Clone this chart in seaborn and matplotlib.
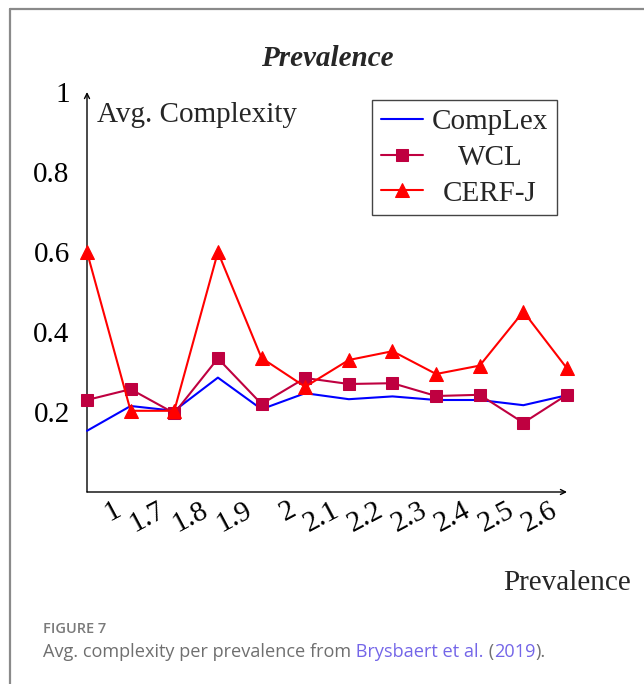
import matplotlib
matplotlib.use("Agg")
import matplotlib.pyplot as plt
import numpy as np
import pandas as pd
import seaborn as sns
from matplotlib.lines import Line2D
from matplotlib.transforms import ScaledTranslation

# ---------------- data ----------------
positions = list(range(12))
tick_positions = list(range(1, 12))
tick_labels = ["1", "1.7", "1.8", "1.9", "2", "2.1", "2.2", "2.3", "2.4", "2.5", "2.6"]
complex_vals = [0.153, 0.215, 0.203, 0.286, 0.207, 0.247, 0.232, 0.239, 0.230, 0.230, 0.217, 0.242]
wcl_vals = [0.230, 0.257, 0.197, 0.334, 0.220, 0.285, 0.270, 0.272, 0.240, 0.243, 0.173, 0.243]
cerf_vals = [0.600, 0.203, 0.203, 0.600, 0.335, 0.263, 0.330, 0.352, 0.295, 0.316, 0.451, 0.309]
y_ticks = [0.2, 0.4, 0.6, 0.8, 1.0]
y_tick_labels = ["0.2", "0.4", "0.6", "0.8", "1"]
series_names = ["CompLex", "WCL", "CERF-J"]
series_values = [complex_vals, wcl_vals, cerf_vals]
series_colors = ["#0000FF", "#BF0040", "#FF0000"]
series_markers = [None, "s", "^"]
series_msize = [0, 9, 9.5]

sns.set_style("white")
plt.rcParams["font.family"] = ["Liberation Serif", "DejaVu Serif"]

W, H = 644, 684
fig = plt.figure(figsize=(W / 100, H / 100), dpi=100)
ax = fig.add_axes([87 / W, 1 - 492 / H, 480 / W, 400 / H])

for name, vals, col, mk, ms in zip(series_names, series_values, series_colors,
                                    series_markers, series_msize):
    df = pd.DataFrame({"x": positions, "y": vals})
    kw = dict(color=col, linewidth=1.5, label=name, ax=ax, clip_on=False, zorder=3)
    if mk is not None:
        kw.update(marker=mk, markersize=ms, markeredgecolor=col, markerfacecolor=col)
    sns.lineplot(data=df, x="x", y="y", **kw)

ax.set_xlim(0, 11)
ax.set_ylim(0, 1)
for s in ax.spines.values():
    s.set_visible(False)
ax.set_xlabel("")
ax.set_ylabel("")

# axis arrows
arrow_kw = dict(arrowstyle="->", lw=1.0, color="black", shrinkA=0, shrinkB=0,
                mutation_scale=9)
ax.annotate("", xy=(1, 0), xytext=(0, 0), xycoords="axes fraction",
            textcoords="axes fraction", arrowprops=arrow_kw, zorder=2)
ax.annotate("", xy=(0, 1), xytext=(0, 0), xycoords="axes fraction",
            textcoords="axes fraction", arrowprops=arrow_kw, zorder=2)

ax.set_xticks(tick_positions)
ax.set_xticklabels(tick_labels)
ax.set_yticks(y_ticks)
ax.set_yticklabels(y_tick_labels)
ax.tick_params(axis="both", direction="inout", length=7, width=0.8,
               color="#cfcfcf", labelsize=21, labelcolor="black")
ax.tick_params(axis="y", pad=9)
ax.tick_params(axis="x", pad=0)

offset = ScaledTranslation(-5 / 100, 0, fig.dpi_scale_trans)
for lbl in ax.get_xticklabels():
    lbl.set_rotation(28)
    lbl.set_ha("right")
    lbl.set_va("top")
    lbl.set_transform(lbl.get_transform() + offset)

# y axis label inside top-left
ax.text(10 / 480, (492 - 115) / 400, "Avg. Complexity", transform=ax.transAxes,
        ha="left", va="center", fontsize=21)

# legend
handles, labels = ax.get_legend_handles_labels()
leg = ax.legend(handles, labels, loc="upper right",
                bbox_to_anchor=((557 - 87) / 480, (492 - 100) / 400),
                fancybox=False, edgecolor="#444444", framealpha=1, fontsize=21,
                handlelength=1.45, handletextpad=0.3, borderpad=0.3,
                labelspacing=0.32, numpoints=1, borderaxespad=0)
leg.get_frame().set_linewidth(1.0)

# center legend texts like the reference
fig.canvas.draw()
renderer = fig.canvas.get_renderer()
texts = leg.get_texts()
widths = [t.get_window_extent(renderer).width for t in texts]
wmax = max(widths)
for t, w in zip(texts, widths):
    dx = (wmax - w) / 2
    t.set_transform(t.get_transform() + ScaledTranslation(dx / 100, 0, fig.dpi_scale_trans))

# title and x label
fig.text(327 / W, 1 - 58 / H, "Prevalence", ha="center", va="center",
         fontsize=21, fontweight="bold", fontstyle="italic")
fig.text(631 / W, 1 - 583 / H, "Prevalence", ha="right", va="center", fontsize=21)

# card border (left and top)
border_col = "#8a8a8a"
fig.add_artist(Line2D([10 / W, 10 / W], [0, 1 - 9 / H], transform=fig.transFigure,
                      color=border_col, lw=1.6))
fig.add_artist(Line2D([10 / W, 1], [1 - 9 / H, 1 - 9 / H], transform=fig.transFigure,
                      color=border_col, lw=1.6))

# caption
cap_font = ["Open Sans", "DejaVu Sans"]
fig.text(43 / W, 1 - 629 / H, "FIGURE 7", family=cap_font, fontweight="semibold",
         fontsize=10.5, color="#7a7a7a", va="center", ha="left")
gray = "#6f6f6f"
link = "#7466e8"
pieces = [("Avg. complexity per prevalence from", gray),
          (" Brysbaert et al.", link),
          (" (", gray),
          ("2019", link),
          (").", gray)]
x = 43 / W
y = 1 - 657 / H
for s, c in pieces:
    t = fig.text(x, y, s, family=cap_font, fontsize=13.1, color=c,
                 ha="left", va="baseline")
    bb = t.get_window_extent(renderer)
    x = bb.x1 / fig.bbox.width

fig.savefig("out.png", dpi=100)
